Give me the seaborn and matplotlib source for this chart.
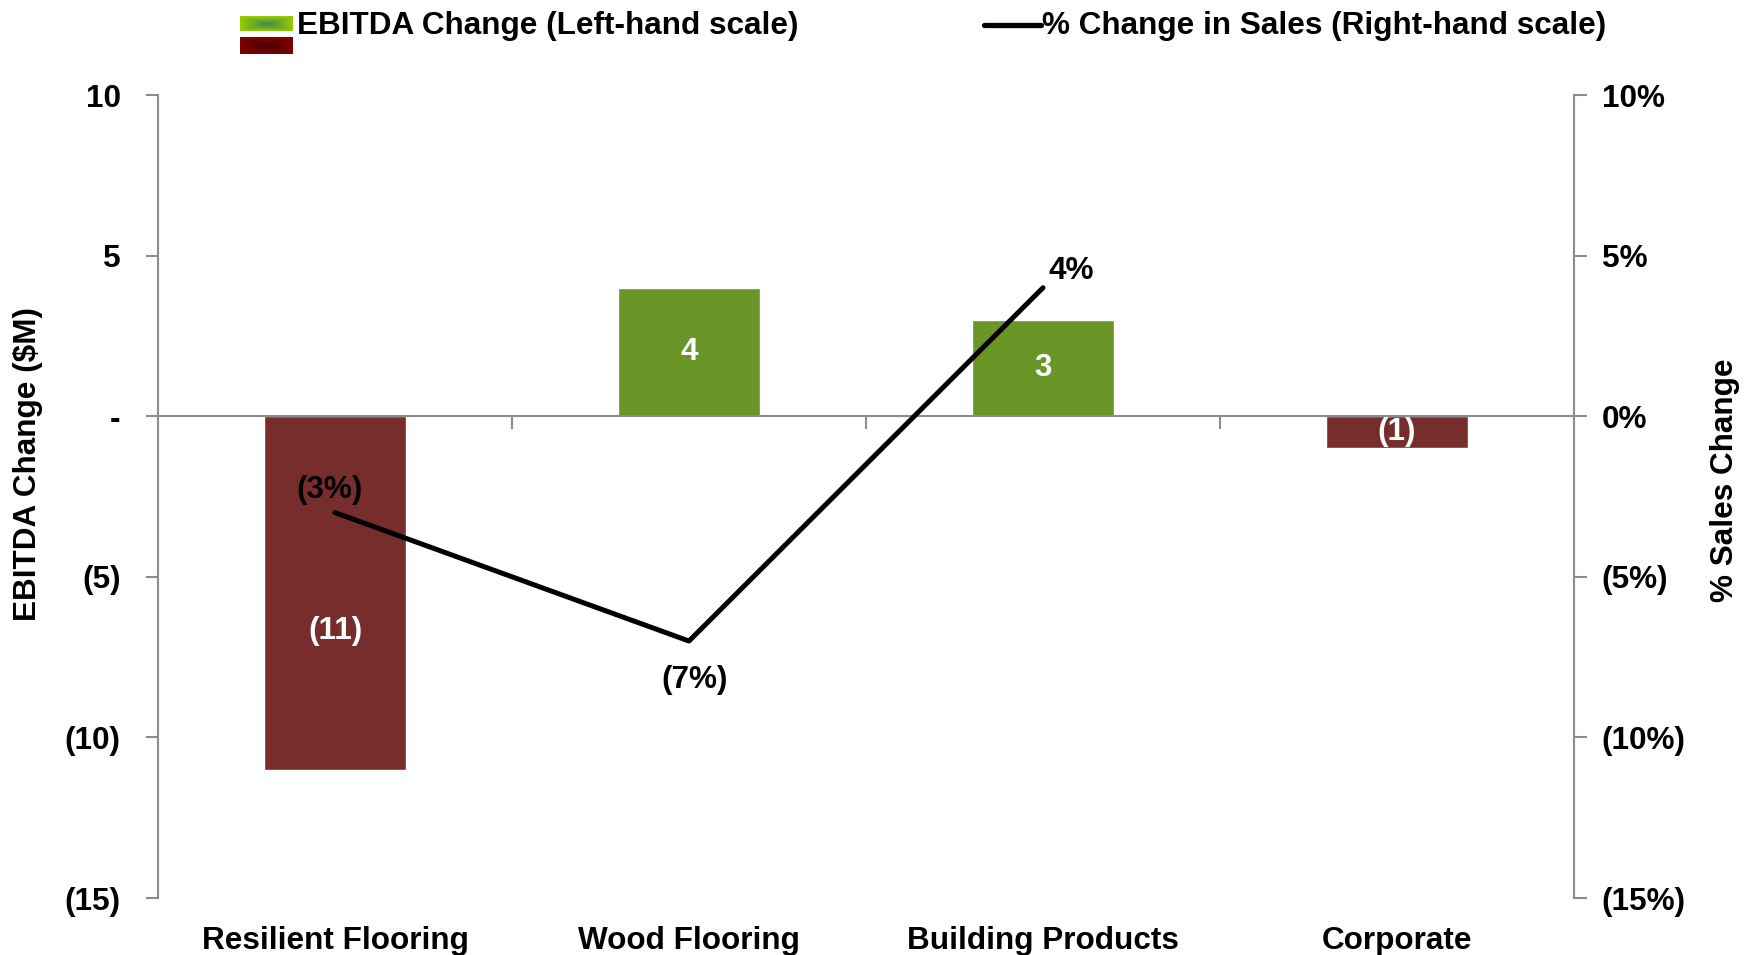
import numpy as np
import pandas as pd
import matplotlib
matplotlib.use("Agg")
import matplotlib.pyplot as plt
import seaborn as sns

# ---- data ----
categories = ["Resilient Flooring", "Wood Flooring", "Building Products", "Corporate"]
ebitda_change = [-11, 4, 3, -1]
sales_change_pct = [-3, -7, 4, np.nan]
ebitda_labels = ["(11)", "4", "3", "(1)"]
sales_labels = ["(3%)", "(7%)", "4%", ""]
left_ticks = [10, 5, 0, -5, -10, -15]
left_ticklabels = ["10", "5", "-", "(5)", "(10)", "(15)"]
right_ticklabels = ["10%", "5%", "0%", "(5%)", "(10%)", "(15%)"]

GREEN = "#6A9527"
RED = "#782D2D"
GRAY = "#8C8C8C"
FS = 22.7

sns.set_theme(style="white")
plt.rcParams["font.family"] = ["Liberation Sans", "DejaVu Sans"]
plt.rcParams["font.weight"] = "bold"
plt.rcParams["text.color"] = "black"
plt.rcParams["axes.labelcolor"] = "black"
plt.rcParams["xtick.labelcolor"] = "black"
plt.rcParams["ytick.labelcolor"] = "black"

fig = plt.figure(figsize=(17.54, 9.55), dpi=100)
ax = fig.add_axes([158 / 1754, 1 - 898 / 955, (1574 - 158) / 1754, (898 - 95) / 955])

df = pd.DataFrame({"cat": categories, "ebitda": ebitda_change})
colors = [GREEN if v >= 0 else RED for v in ebitda_change]
sns.barplot(data=df, x="cat", y="ebitda", hue="cat", palette=colors, legend=False,
            width=0.4, saturation=1, ax=ax, zorder=2)

ax.set_ylim(-15, 10)
ax.set_xlim(-0.5, len(categories) - 0.5)
ax.set_yticks(left_ticks)
ax.set_yticklabels(left_ticklabels, fontsize=FS, fontweight="bold", color="black")
ax.set_ylabel("EBITDA Change ($M)", fontsize=FS, fontweight="bold", color="black")
ax.yaxis.set_label_coords(-0.081, 0.54)
ax.set_xlabel("")

# x spine at zero with boundary ticks
ax.spines["bottom"].set_position(("data", 0))
for s in ["top", "right"]:
    ax.spines[s].set_visible(False)
ax.spines["left"].set_color(GRAY)
ax.spines["bottom"].set_color(GRAY)
ax.spines["left"].set_linewidth(1.5)
ax.spines["bottom"].set_linewidth(1.5)
ax.set_xticks(np.arange(0.5, len(categories) - 0.5, 1.0))
ax.set_xticklabels([])
ax.tick_params(axis="x", direction="out", length=9, width=1.5, color=GRAY, bottom=True)
ax.tick_params(axis="y", direction="out", length=9, width=1.5, color=GRAY, left=True, pad=18)

# category labels below plot
for i, c in enumerate(categories):
    ax.text(i, -0.035, c, transform=ax.get_xaxis_transform(), ha="center", va="top",
            fontsize=FS, fontweight="bold", color="black")

# bar value labels
label_offsets = [-1.2, 0, 0, 0]
for i, (v, lab) in enumerate(zip(ebitda_change, ebitda_labels)):
    ax.text(i, v / 2 + label_offsets[i], lab, ha="center", va="center",
            fontsize=FS, fontweight="bold", color="white", zorder=4)

# right axis with line
ax2 = ax.twinx()
ax2.set_position(ax.get_position())
line_df = pd.DataFrame({"x": np.arange(len(categories)), "pct": sales_change_pct})
sns.lineplot(data=line_df, x="x", y="pct", color="black", linewidth=3.6, ax=ax2,
             zorder=5, solid_capstyle="round")
ax2.set_ylim(-15, 10)
ax2.set_xlim(-0.5, len(categories) - 0.5)
ax2.set_yticks(left_ticks)
ax2.set_yticklabels(right_ticklabels, fontsize=FS, fontweight="bold", color="black")
ax2.set_ylabel("% Sales Change", fontsize=FS, fontweight="bold", rotation=90, color="black")
ax2.yaxis.set_label_coords(1.096, 0.52)
ax2.set_xlabel("")
for s in ["top", "left", "bottom"]:
    ax2.spines[s].set_visible(False)
ax2.spines["right"].set_color(GRAY)
ax2.spines["right"].set_linewidth(1.5)
ax2.tick_params(axis="y", direction="out", length=9, width=1.5, color=GRAY, right=True, pad=11)
ax2.grid(False)
ax.grid(False)

# line labels
offsets = [(-4, 16), (4, -28), (20, 12)]
for i, (v, lab) in enumerate(zip(sales_change_pct, sales_labels)):
    if lab and not np.isnan(v):
        ax2.annotate(lab, (i, v), xytext=offsets[i], textcoords="offset points",
                     ha="center", va="center", fontsize=FS, fontweight="bold", color="black")

# ---- legend (custom) ----
def grad_patch(rect, edge, center):
    la = fig.add_axes(rect)
    h, w = 20, 60
    yy, xx = np.mgrid[0:h, 0:w]
    d = np.maximum(np.abs(xx - w / 2) / (w / 2), np.abs(yy - h / 2) / (h / 2))
    d = np.clip(d, 0, 1)[..., None]
    e = np.array(matplotlib.colors.to_rgb(edge))
    c = np.array(matplotlib.colors.to_rgb(center))
    img = c * (1 - d) + e * d
    la.imshow(img, aspect="auto", interpolation="bilinear")
    la.set_axis_off()

grad_patch([240 / 1754, 1 - 31 / 955, 53 / 1754, 15 / 955], "#99CC00", "#3E8A50")
grad_patch([240 / 1754, 1 - 54 / 955, 53 / 1754, 17 / 955], "#800000", "#4A0000")
fig.text(297 / 1754, 1 - 26 / 955, "EBITDA Change (Left-hand scale)", ha="left", va="center",
         fontsize=FS, fontweight="bold", color="black")
fig.add_artist(plt.Line2D([984 / 1754, 1041 / 1754], [1 - 25 / 955, 1 - 25 / 955],
                          color="black", linewidth=3.8, transform=fig.transFigure))
fig.text(1042 / 1754, 1 - 26 / 955, "% Change in Sales (Right-hand scale)", ha="left", va="center",
         fontsize=FS, fontweight="bold", color="black")

fig.savefig("out.png", dpi=100, facecolor="white")
